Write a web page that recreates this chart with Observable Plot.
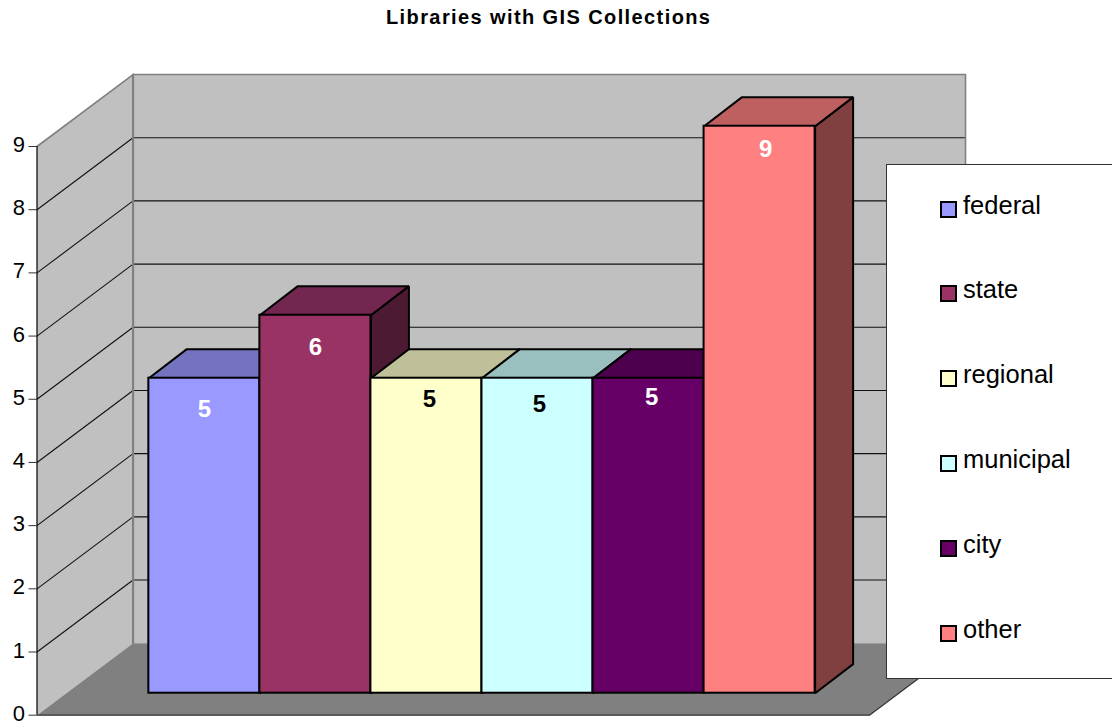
<!DOCTYPE html>
<html>
<head>
<meta charset="utf-8">
<script src="https://cdn.jsdelivr.net/npm/d3@7"></script>
<script src="https://cdn.jsdelivr.net/npm/@observablehq/plot@0.6"></script>
<style>
html,body{margin:0;padding:0;background:#fff;overflow:hidden}
#page{position:relative;width:1112px;height:722px;font-family:"Liberation Sans",Arial,sans-serif;color:#000}
#page svg{position:absolute;left:0;top:0;background:transparent}
#title{position:absolute;left:386px;top:6px;white-space:nowrap;font-weight:bold;font-size:20px;letter-spacing:1.4px;line-height:23px}
#legend{position:absolute;left:886px;top:164px;width:240px;height:515px;background:#fff;border:1px solid #333;box-sizing:border-box;z-index:2}
.row{position:absolute;left:53px;display:flex;align-items:center;height:30px}
.sw{border:2px solid #000;margin-top:6px;margin-right:6px;box-sizing:content-box;width:13px;height:13px}
.lab{font-size:25.5px;line-height:30px;margin-top:-3px}
</style>
</head>
<body>
<div id="page">
<div id="title"></div>
<div id="legend"></div>
</div>
<script>
const chartTitle = "Libraries with GIS Collections";
const categories = ["federal","state","regional","municipal","city","other"];
const values = [5,6,5,5,5,9];
const frontColors = ["#9999ff","#993366","#ffffcc","#ccffff","#660066","#ff8080"];
const topColors = ["#7373bf","#732650","#bfbf99","#99bfbf","#4d004d","#bf6060"];
const sideColors = ["#4d4d80","#4d1a33","#808066","#668080","#330033","#804040"];
const labelColors = ["#ffffff","#ffffff","#000000","#000000","#ffffff","#ffffff"];
const yTicks = [0,1,2,3,4,5,6,7,8,9];
const gridValues = [1,2,3,4,5,6,7,8];

// projection layout (in scale units)
const layout = {
  xFront: -1.007, xRight: 6.489, wallDx: 0.865, wallDy: 1.139, yMax: 9,
  barBase: 0.348, barScale: 0.997, barDx: 0.342, barDy: 0.46,
  labelDx: [0,0,3,2,3,6], labelDy: [31,32,21,26,19,23]
};
const L = layout;
const font = '"Liberation Sans",Arial,sans-serif';
const poly = (pts, fill, stroke, strokeWidth) => Plot.line(pts, {
  x: d => d[0], y: d => d[1], curve: "linear-closed",
  fill, stroke, strokeWidth, strokeLinejoin: "miter"
});
const seg = (pts, stroke, strokeWidth) => Plot.line(pts, {
  x: d => d[0], y: d => d[1], stroke, strokeWidth
});

const xb = L.xFront + L.wallDx, xr = L.xRight + L.wallDx;

const marks = [
  // side wall, back wall, floor
  poly([[L.xFront,0],[xb,L.wallDy],[xb,L.yMax+L.wallDy],[L.xFront,L.yMax]], "#c0c0c0", "none", 0),
  poly([[xb,L.wallDy],[xr,L.wallDy],[xr,L.yMax+L.wallDy],[xb,L.yMax+L.wallDy]], "#c0c0c0", "none", 0),
  poly([[L.xFront,0],[xb,L.wallDy],[xr,L.wallDy],[L.xRight,0]], "#808080", "none", 0),
  // gridlines
  ...gridValues.map(v => seg([[L.xFront,v],[xb,v+L.wallDy],[xr,v+L.wallDy]], "#111111", 1.1)),
  // wall borders
  seg([[L.xFront,L.yMax],[xb,L.yMax+L.wallDy],[xr,L.yMax+L.wallDy],[xr,L.wallDy]], "#808080", 1.6),
  seg([[xb,L.wallDy],[xb,L.yMax+L.wallDy]], "#808080", 2.2),
  // floor front + right edge, value axis
  seg([[L.xFront,0],[L.xRight,0],[xr,L.wallDy]], "#333333", 1.2),
  Plot.ruleX([L.xFront], {y1: 0, y2: L.yMax, stroke: "#000", strokeWidth: 1.2}),
  // bars
  ...categories.flatMap((c, i) => {
    const t = values[i]*L.barScale + L.barBase, b = L.barBase;
    const x1 = i, x2 = i + 1;
    return [
      poly([[x2,b],[x2+L.barDx,b+L.barDy],[x2+L.barDx,t+L.barDy],[x2,t]], sideColors[i], "#000", 2),
      poly([[x1,t],[x1+L.barDx,t+L.barDy],[x2+L.barDx,t+L.barDy],[x2,t]], topColors[i], "#000", 2),
      Plot.rect([c], {x1: () => x1, x2: () => x2, y1: () => b, y2: () => t,
        fill: frontColors[i], stroke: "#000", strokeWidth: 2})
    ];
  }),
  // data labels
  ...categories.map((c, i) => Plot.text([values[i]], {
    x: () => i + 0.5, y: v => v*L.barScale + L.barBase, text: v => String(v),
    dx: L.labelDx[i], dy: L.labelDy[i],
    fill: labelColors[i], fontWeight: "bold", fontSize: 24, fontFamily: font
  })),
  // value axis: ticks, then labels
  Plot.axisY(yTicks, {anchor: "left", tickSize: 8, text: null, label: null, stroke: "#333"}),
  Plot.text(yTicks, {
    x: () => L.xFront, y: d => d, text: d => String(d),
    textAnchor: "end", dx: -12, dy: -1.5, fontSize: 22, fill: "#000", fontFamily: font
  })
];

const chart = Plot.plot({
  width: 1112, height: 722,
  marginLeft: 36.5, marginRight: 0, marginTop: 0, marginBottom: 0,
  x: {type: "linear", domain: [L.xFront, xr], range: [36.5, 965], axis: null},
  y: {type: "linear", domain: [0, L.yMax], range: [714.7, 146], axis: null},
  style: {background: "transparent"},
  marks
});
document.getElementById("page").appendChild(chart);
document.getElementById("title").textContent = chartTitle;

const legend = document.getElementById("legend");
categories.forEach((c, i) => {
  const row = document.createElement("div");
  row.className = "row";
  row.style.top = (26 + i*84.9) + "px";
  const sw = document.createElement("div");
  sw.className = "sw"; sw.style.background = frontColors[i];
  const lab = document.createElement("div");
  lab.className = "lab"; lab.textContent = c;
  row.append(sw, lab);
  legend.appendChild(row);
});
</script>
</body>
</html>
